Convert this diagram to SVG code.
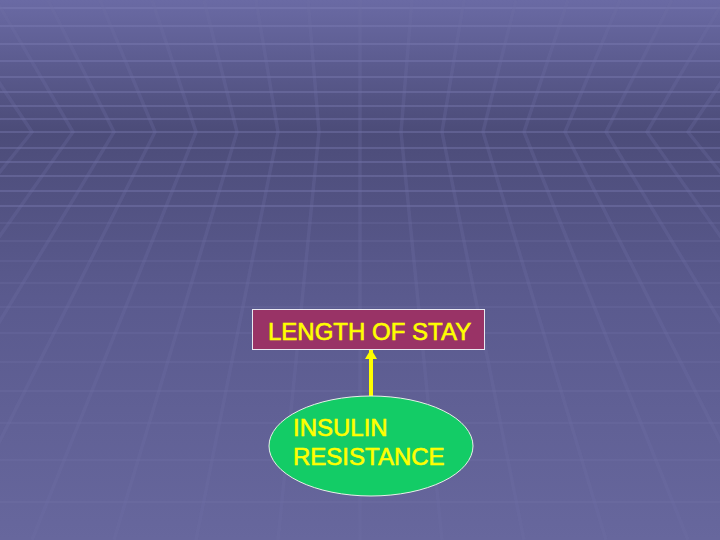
<svg xmlns="http://www.w3.org/2000/svg" width="720" height="540" viewBox="0 0 720 540">
<defs>
<linearGradient id="bg" x1="0" y1="0" x2="0" y2="1">
<stop offset="0" stop-color="#6a6aa4"/>
<stop offset="0.24" stop-color="#4c4c79"/>
<stop offset="0.55" stop-color="#5a5a8e"/>
<stop offset="1" stop-color="#67679d"/>
</linearGradient>
<marker id="ah" viewBox="0 0 10 12" refX="9" refY="6" markerWidth="10" markerHeight="12" orient="auto" markerUnits="userSpaceOnUse">
<path d="M0,0 L10,6 L0,12 z" fill="#ffff00"/>
</marker>
<style>
.h{stroke:#8080b8;stroke-opacity:0.5;stroke-width:1.5}
.hb{stroke:#7a7ab0;stroke-opacity:0.25;stroke-width:1.5}
.v{stroke:#7070a6;stroke-opacity:0.28;stroke-width:3.5;fill:none}
.lbl{font-family:"Liberation Sans",Arial,sans-serif;font-size:24px;fill:#ffff00;stroke:#ffff00;stroke-width:0.6}
</style>
</defs>
<g id="background">
<rect width="720" height="540" fill="url(#bg)"/>
<g class="hl">
<line class="h" x1="0" y1="8" x2="720" y2="8"/>
<line class="h" x1="0" y1="26" x2="720" y2="26"/>
<line class="h" x1="0" y1="44" x2="720" y2="44"/>
<line class="h" x1="0" y1="61" x2="720" y2="61"/>
<line class="h" x1="0" y1="77" x2="720" y2="77"/>
<line class="h" x1="0" y1="92" x2="720" y2="92"/>
<line class="h" x1="0" y1="106" x2="720" y2="106"/>
<line class="h" x1="0" y1="119" x2="720" y2="119"/>
<line class="h" x1="0" y1="132" x2="720" y2="132"/>
<line class="h" x1="0" y1="148" x2="720" y2="148"/>
<line class="h" x1="0" y1="162" x2="720" y2="162"/>
<line class="h" x1="0" y1="176" x2="720" y2="176"/>
<line class="h" x1="0" y1="191" x2="720" y2="191"/>
<line class="h" x1="0" y1="206" x2="720" y2="206"/>
<line class="hb" x1="0" y1="223" x2="720" y2="223"/>
<line class="hb" x1="0" y1="241" x2="720" y2="241"/>
<line class="hb" x1="0" y1="261" x2="720" y2="261"/>
<line class="hb" x1="0" y1="283" x2="720" y2="283"/>
<line class="hb" x1="0" y1="307" x2="720" y2="307"/>
<line class="hb" x1="0" y1="333" x2="720" y2="333"/>
<line class="hb" x1="0" y1="362" x2="720" y2="362"/>
<line class="hb" x1="0" y1="391" x2="720" y2="391"/>
<line class="hb" x1="0" y1="423" x2="720" y2="423"/>
<line class="hb" x1="0" y1="460" x2="720" y2="460"/>
<line class="hb" x1="0" y1="502" x2="720" y2="502"/>
</g>
<g class="vl">
<polyline class="v" points="360,0 360,132 360,540"/>
<polyline class="v" points="308,0 319,132 278,540"/>
<polyline class="v" points="412,0 401,132 442,540"/>
<polyline class="v" points="256,0 278,132 196,540"/>
<polyline class="v" points="464,0 442,132 524,540"/>
<polyline class="v" points="204,0 237,132 114,540"/>
<polyline class="v" points="516,0 483,132 606,540"/>
<polyline class="v" points="152,0 196,132 32,540"/>
<polyline class="v" points="568,0 524,132 688,540"/>
<polyline class="v" points="100,0 155,132 -50,540"/>
<polyline class="v" points="620,0 565,132 770,540"/>
<polyline class="v" points="48,0 114,132 -132,540"/>
<polyline class="v" points="672,0 606,132 852,540"/>
<polyline class="v" points="-4,0 73,132 -214,540"/>
<polyline class="v" points="724,0 647,132 934,540"/>
<polyline class="v" points="-56,0 32,132 -296,540"/>
<polyline class="v" points="776,0 688,132 1016,540"/>
<polyline class="v" points="-108,0 -9,132"/>
<polyline class="v" points="828,0 729,132"/>
</g>
</g>
<g id="connectors">
<line x1="371" y1="406" x2="371" y2="350" stroke="#ffff00" stroke-width="4" marker-end="url(#ah)"/>
</g>
<g id="node-length-of-stay">
<rect x="252.5" y="309.5" width="232" height="40" fill="#993366" stroke="#e8e8f0" stroke-width="1"/>
<text class="lbl" x="268" y="340">LENGTH OF STAY</text>
</g>
<g id="node-insulin-resistance">
<ellipse cx="371" cy="446" rx="102" ry="50" fill="#13cc66" stroke="#e8f0e8" stroke-width="1"/>
<text class="lbl" x="293" y="436">INSULIN</text>
<text class="lbl" x="293" y="465">RESISTANCE</text>
</g>
</svg>
